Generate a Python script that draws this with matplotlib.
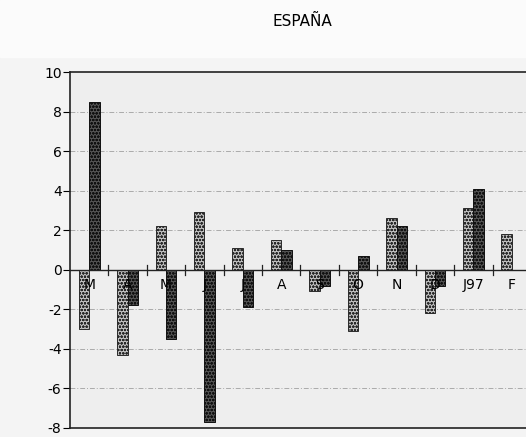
import matplotlib.pyplot as plt
import numpy as np

months = ['M', 'A', 'M', 'J', 'J', 'A', 'S', 'O', 'N', 'D', 'J97', 'F']
serie_clara = [-3.0, -4.3, 2.2, 2.9, 1.1, 1.5, -1.1, -3.1, 2.6, -2.2, 3.1, 1.8]
serie_oscura = [8.5, -1.8, -3.5, -7.7, -1.9, 1.0, -0.8, 0.7, 2.2, -0.8, 4.1, np.nan]

plt.rcParams['hatch.linewidth'] = 0.7
plt.rcParams['axes.unicode_minus'] = False
fig = plt.figure(figsize=(5.26, 4.37), dpi=100, facecolor='#f4f4f4')
fig.patches.append(plt.Rectangle((0, 0.87), 1, 0.13, transform=fig.transFigure,
                                 color='#fbfbfb', zorder=-1))
ax = fig.add_axes([0.133, 0.021, 0.87, 0.814])
ax.set_facecolor('#eeeeee')

x = np.arange(len(months))
w = 0.27
ax.bar(x - w / 2, serie_clara, w, color='#c4c4c4', edgecolor='#2a2a2a',
       hatch='ooooo', linewidth=0.7, zorder=3)
ax.bar(x + w / 2, serie_oscura, w, color='#555555', edgecolor='#111111',
       hatch='ooooo', linewidth=0.7, zorder=3)

ax.set_xlim(-0.5, 11.41)
ax.set_ylim(-8, 10)
ax.set_yticks(range(-8, 11, 2))
ax.tick_params(axis='y', length=5, direction='out', labelsize=10, pad=1)
ax.set_xticks([])
for g in [2, 4, 6, 8]:
    ax.axhline(g, color='#aaaaaa', lw=0.7, ls=(0, (5, 2, 1, 2)), zorder=1)
    ax.axhline(-g, color='#aaaaaa', lw=0.7, ls=(0, (5, 2, 1, 2)), zorder=1)
ax.axhline(0, color='#222222', lw=1.0, zorder=4)
# marcas de separacion sobre el eje cero
for b in x[:-1] + 0.5:
    ax.plot([b, b], [-0.25, 0.25], color='#222222', lw=0.9, zorder=4)
for xi, m in zip(x, months):
    ax.text(xi, -0.75, m, ha='center', va='center', fontsize=10, zorder=5)

for s in ['left', 'top', 'bottom']:
    ax.spines[s].set_color('#222222')
    ax.spines[s].set_linewidth(1.2)
ax.spines['right'].set_visible(False)

fig.text(0.574, 0.95, 'ESPAÑA', ha='center', va='center', fontsize=11)

fig.savefig('out.png', dpi=100, facecolor=fig.get_facecolor())
